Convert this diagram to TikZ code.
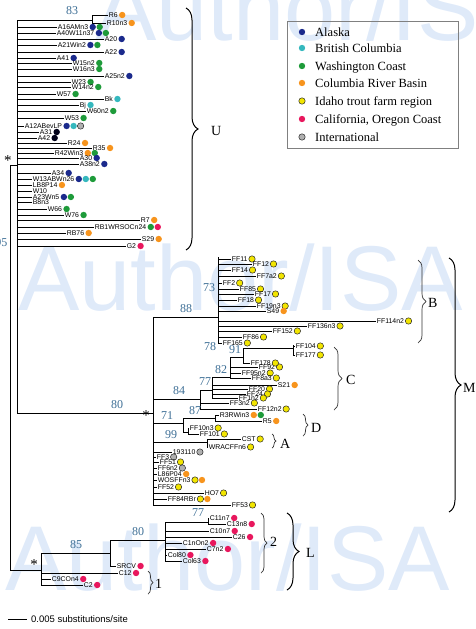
\documentclass[tikz,border=0pt]{standalone}
\usepackage{fontspec}
\setmainfont{Liberation Serif}
\newfontfamily\lblf{Liberation Sans}
\usetikzlibrary{decorations.pathreplacing}
\definecolor{ak}{HTML}{1B2A8C}
\definecolor{bcol}{HTML}{35B8BE}
\definecolor{wcol}{HTML}{1E9B3A}
\definecolor{crb}{HTML}{F7941D}
\definecolor{idy}{HTML}{F2E500}
\definecolor{cal}{HTML}{E8175D}
\definecolor{intl}{HTML}{B0B0B0}
\definecolor{boot}{HTML}{3E6F96}
\definecolor{wm}{HTML}{DFEAF9}
\newcommand\leaf[5]{%
  \draw[tl] (#1,#2) -- (#3,#2) node[lbl] (L) {#4};
  \foreach \s [count=\i] in {#5} {\path[\s] ([xshift=\i*7pt-3.3pt]L.east) circle[radius=3.2pt];}}
\newcommand\leafn[4]{\draw[tl] (#1,#2) -- (#3,#2) node[lbl] {#4};}
\begin{document}
\begin{tikzpicture}[x=1pt,y=-1pt,
  br/.style={line width=0.8pt,black},
  tl/.style={line width=0.7pt,black},
  lbl/.style={anchor=west,inner sep=0.5pt,text height=4.5pt,text depth=0pt,font=\lblf\fontsize{6.9}{7}\selectfont},
  bs/.style={font=\fontsize{12}{12}\selectfont,text=boot,inner sep=0pt},
  cl/.style={font=\fontsize{14}{14}\selectfont,inner sep=0pt,anchor=west},
  star/.style={font=\fontsize{15}{15}\selectfont,inner sep=0pt},
  lg/.style={font=\fontsize{12.5}{13}\selectfont,inner sep=0pt,anchor=base west},
  wmk/.style={font=\lblf\fontsize{92}{92}\selectfont,text=wm,inner sep=0pt,anchor=base west},
  brc/.style={decorate,decoration={brace,amplitude=#1},draw=black!80,line width=0.7pt},
  pA/.style={fill=ak}, pB/.style={fill=bcol}, pW/.style={fill=wcol},
  pR/.style={fill=crb}, pC/.style={fill=cal}, pD/.style={fill=black!90!blue},
  pI/.style={fill=idy,draw=black!85,line width=0.5pt},
  pX/.style={fill=intl,draw=black!85,line width=0.5pt}]
\useasboundingbox (0,0) rectangle (475,629);
% watermark
\node[wmk] (wm1) at (95,40) {Author/ISA};
\node[wmk] (wm2) at (18,310) {Author/ISA};
\node[wmk] (wm3) at (5,590) {Author/ISA};
% legend
\draw[gray,line width=0.5pt] (287,21) rectangle (458,148);
\path[pA] (302,32) circle[radius=3.2pt]; \node[lg] (l1) at (315,36) {Alaska};
\path[pB] (302,48) circle[radius=3.2pt]; \node[lg] (l2) at (315,52) {British Columbia};
\path[pW] (302,66) circle[radius=3.2pt]; \node[lg] (l3) at (315,70) {Washington Coast};
\path[pR] (302,83) circle[radius=3.2pt]; \node[lg] (l4) at (315,87) {Columbia River Basin};
\path[pI] (302,101) circle[radius=3.2pt]; \node[lg] (l5) at (315,105) {Idaho trout farm region};
\path[pC] (302,119) circle[radius=3.2pt]; \node[lg] (l6) at (315,123) {California, Oregon Coast};
\path[pX] (302,137) circle[radius=3.2pt]; \node[lg] (l7) at (315,141) {International};
% root and backbone
\draw[br] (10,165) -- (10,570);
\draw[br] (10,165) -- (17,165);
\draw[br] (17,20) -- (17,413);
\node[star] (s1) at (8,161) {*};
\node[bs,anchor=east] (b95) at (7.5,243) {95};
% U clade
\draw[br] (17,20) -- (92,20); \node[bs] (b83) at (72,11) {83};
\draw[br] (92,15) -- (92,23);
\leaf{92}{15}{108}{R6}{pR}
\leaf{92}{23}{106}{R10n3}{pR}
\leaf{17}{27}{57}{A16AMn3}{pA,pW}
\leaf{17}{33}{56}{A40W11n37}{pA,pW}
\leaf{17}{39}{104}{A20}{pA}
\leaf{17}{45}{57}{A21Win2}{pA,pW}
\leaf{17}{52}{104}{A22}{pA}
\leaf{17}{58}{56}{A41}{pA}
\leaf{17}{63}{72}{W15n2}{pW}
\leaf{17}{69}{72}{W16n3}{pW}
\leaf{17}{76}{104}{A25n2}{pA}
\leaf{17}{82}{71}{W23}{pW}
\leaf{17}{87}{71}{W14n2}{pW}
\leaf{17}{94}{56}{W57}{pW}
\leaf{17}{99}{104}{Bk}{pB}
\leaf{17}{105}{79}{Bj}{pB}
\leaf{17}{111}{86}{W60n2}{pW}
\leaf{17}{118}{64}{W53}{pW}
\leaf{17}{126}{24}{A12ABevLP}{pA,pB,pX}
\leaf{17}{132}{39}{A31}{pD}
\leaf{17}{138}{37}{A42}{pD}
\leaf{17}{143}{67}{R24}{pR}
\leaf{17}{148}{92}{R35}{pR}
\leaf{17}{153}{54}{R42Win3}{pR,pW}
\leaf{17}{158}{79}{A30}{pA}
\leaf{17}{164}{79}{A38n2}{pA}
\leaf{17}{173}{51}{A34}{pA}
\leaf{17}{179}{32}{W13ABWn26}{pA,pB,pW}
\leaf{17}{185}{32}{LB8P14}{pR}
\leafn{17}{191}{32}{W10}
\leaf{17}{197}{32}{A23Wn5}{pA,pW}
\leafn{17}{202}{32}{B8n3}
\leaf{17}{209}{47}{W66}{pW}
\leaf{17}{215}{64}{W76}{pW}
\leaf{17}{220}{140}{R7}{pR}
\leaf{17}{227}{94}{RB1WRSOCn24}{pW,pC}
\leaf{17}{233}{66}{RB76}{pR}
\leaf{17}{239}{141}{S29}{pR}
\leaf{17}{246}{126}{G2}{pC}
% M clade
\draw[br] (17,413) -- (153,413); \node[bs] (b80a) at (117,405) {80};
\node[star] (s2) at (146,416) {*};
\draw[br] (153,317) -- (153,505);
% B
\draw[br] (153,317) -- (218,317); \node[bs] (b88) at (186,309) {88};
\draw[br] (218,257) -- (218,343);
\node[bs] (b73) at (209,288) {73};
\node[bs] (b78) at (210,347) {78};
\leaf{218}{259}{231}{FF11}{pI}
\leaf{218}{264}{252}{FF12}{pI}
\leaf{218}{270}{231}{FF14}{pI}
\leaf{218}{276}{256}{FF7a2}{pI}
\leaf{218}{283}{222}{FF2}{pI}
\leaf{218}{289}{239}{FF85}{pI}
\leaf{218}{294}{254}{FF17}{pI}
\leaf{218}{300}{237}{FF18}{pI}
\leaf{218}{306}{256}{FF19n3}{pI}
\leaf{218}{311}{266}{S49}{pR}
\leaf{218}{321}{376}{FF114n2}{pI}
\leaf{218}{326}{307}{FF136n3}{pI}
\leaf{218}{331}{272}{FF152}{pI}
\leaf{218}{337}{242}{FF86}{pI}
\leaf{218}{343}{222}{FF165}{pI}
% C
\draw[br] (153,399) -- (200,399); \node[bs] (b84) at (179,391) {84};
\draw[br] (200,390) -- (200,409);
\draw[br] (200,390) -- (212,390); \node[bs] (b77a) at (205,382) {77};
\leaf{200}{403}{229}{FF3n2}{pI}
\leaf{200}{409}{257}{FF12n2}{pI}
\draw[br] (212,377) -- (212,398);
\draw[br] (212,377) -- (230,377); \node[bs] (b82) at (221,370) {82};
\leaf{212}{385}{277}{S21}{pR}
\leaf{212}{389}{248}{FF20}{pI}
\leaf{212}{394}{246}{FF24}{pI}
\leaf{212}{398}{238}{FF1n2}{pI}
\draw[br] (230,357) -- (230,378);
\draw[br] (230,357) -- (243,357); \node[bs] (b91) at (235,350) {91};
\leaf{230}{367}{258}{FF92}{pI}
\leaf{230}{373}{241}{FF95n2}{pI}
\leaf{230}{378}{251}{FF8a3}{pI}
\draw[br] (243,348) -- (243,363);
\draw[br] (243,348) -- (293,348);
\draw[br] (293,345) -- (293,356);
\leaf{293}{346}{295}{FF104}{pI}
\leaf{293}{355}{295}{FF177}{pI}
\leaf{243}{363}{250}{FF178}{pI}
% D
\draw[br] (153,423) -- (183,423); \node[bs] (b71) at (167,416) {71};
\draw[br] (183,418) -- (183,432);
\draw[br] (183,418) -- (215,418); \node[bs] (b87) at (195,411) {87};
\draw[br] (215,415) -- (215,421);
\leaf{215}{415}{219}{R3RWin3}{pR,pW}
\leaf{215}{421}{262}{R5}{pR}
\draw[br] (183,432) -- (188,432);
\draw[br] (188,428) -- (188,434);
\leaf{188}{428}{189}{FF10n3}{pI}
\leaf{188}{434}{199}{FF101}{pI}
% A
\draw[br] (153,442) -- (207,442); \node[bs] (b99) at (171,435) {99};
\draw[br] (207,439) -- (207,447);
\leaf{207}{439}{241}{CST}{pI}
\leaf{207}{447}{208}{WRACFFn6}{pI}
% remaining M leaves
\leaf{153}{452}{172}{193110}{pX}
\leaf{153}{457}{156}{FF3}{pX}
\leaf{153}{462}{159}{FF51}{pI}
\leaf{153}{468}{157}{FF6n2}{pX}
\leaf{153}{474}{157}{L86P04}{pR}
\leaf{153}{480}{157}{WOSFFn3}{pI,pR}
\leaf{153}{487}{157}{FF52}{pI}
\leaf{153}{493}{204}{HO7}{pI}
\leaf{153}{499}{167}{FF84RBr}{pI,pR}
\leaf{153}{505}{231}{FF53}{pI}
% L clade
\draw[br] (10,570) -- (41,570); \node[star] (s3) at (34,565) {*};
\draw[br] (41,553) -- (41,585);
\draw[br] (41,553) -- (110,553); \node[bs] (b85) at (76,545) {85};
\draw[br] (110,540) -- (110,566);
\leaf{110}{566}{116}{SRCV}{pC}
\leaf{41}{573}{118}{C12}{pC}
\leaf{41}{579}{51}{C9COn4}{pC}
\leaf{41}{585}{83}{C2}{pC}
\draw[br] (110,540) -- (165,540); \node[bs] (b80b) at (138,532) {80};
\draw[br] (165,522) -- (165,561);
\draw[br] (165,522) -- (208,522); \node[bs] (b77b) at (198,513) {77};
\draw[br] (208,518) -- (208,524);
\leaf{208}{518}{209}{C11n7}{pC}
\leaf{208}{524}{226}{C13n8}{pC}
\leaf{165}{531}{209}{C10n7}{pC}
\leaf{165}{537}{232}{C26}{pC}
\leaf{165}{543}{182}{C1nOn2}{pC}
\leaf{165}{549}{206}{C7n2}{pC}
\leaf{165}{555}{167}{Col80}{pC}
\leaf{165}{561}{182}{Col63}{pC}
% braces
\draw[brc=12pt,line width=1pt,draw=black] (186,8) -- (186,250);
\node[cl] (cU) at (211,131) {U};
\draw[brc=12pt,line width=1pt,draw=black] (449,258) -- (449,512);
\node[cl] (cM) at (463,388) {M};
\draw[brc=8pt] (418,260) -- (418,343);
\node[cl] (cB) at (428,303) {B};
\draw[brc=8pt] (334,347) -- (334,410);
\node[cl] (cC) at (346,380) {C};
\draw[brc=5pt] (303,414) -- (303,436);
\node[cl] (cD) at (311,428) {D};
\draw[brc=4pt] (272,434) -- (272,448);
\node[cl] (cA) at (280,444) {A};
\draw[brc=6pt] (261,513) -- (261,573);
\node[cl] (c2) at (270,542) {2};
\draw[brc=12pt,line width=1pt,draw=black] (287,513) -- (287,590);
\node[cl] (cL) at (306,553) {L};
\draw[brc=5pt] (148,571) -- (148,594);
\node[cl] (c1) at (155,584) {1};
% scale bar
\coordinate (sb1) at (8,619); \coordinate (sb2) at (27,619);
\draw[line width=0.8pt] (sb1) -- (sb2);
\node[anchor=west,inner sep=0pt,font=\lblf\fontsize{9.5}{10}\selectfont] (sbt) at (31,619) {0.005 substitutions/site};
\end{tikzpicture}
\end{document}
